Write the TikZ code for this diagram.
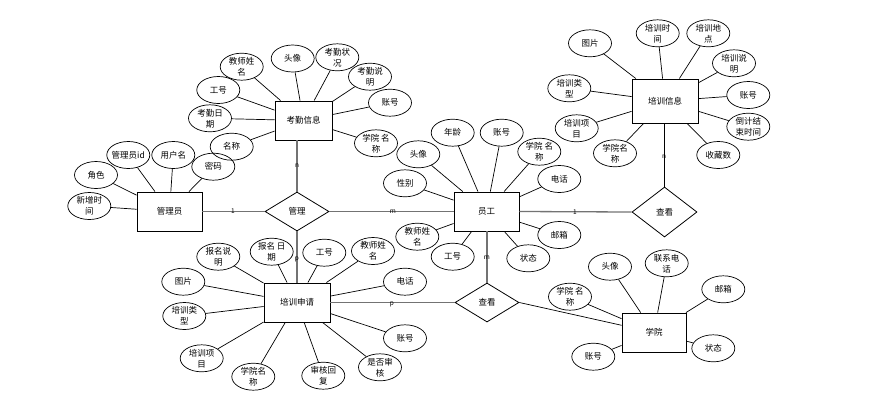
\documentclass[tikz,border=0pt]{standalone}
\usepackage{fontspec}
\setmainfont{Noto Sans CJK SC}
\usetikzlibrary{shapes.geometric}
\begin{document}
\begin{tikzpicture}[x=1pt,y=-1pt,
  ent/.style={draw, line width=0.9pt, minimum height=39pt, inner sep=0pt, font=\fontsize{8.5}{11}\selectfont},
  rel/.style={diamond, draw, line width=0.8pt, minimum width=64pt, minimum height=39pt, inner sep=0pt, font=\fontsize{8.5}{11}\selectfont},
  attr/.style={ellipse, draw, line width=0.7pt, minimum width=43pt, minimum height=27pt, inner sep=0pt, label={[atxt]center:#1}},
  atxt/.style={align=center, inner sep=0pt, font=\fontsize{8.5}{11}\selectfont},
  ln/.style={line width=0.7pt},
  rl/.style={line width=1.3pt, draw=black!55},
  rk/.style={line width=0.9pt, draw=black},
  card/.style={font=\fontsize{6.5}{7}\selectfont, inner sep=0pt}]
\useasboundingbox (0,0) rectangle (878,400);

% entities
\node[ent, minimum width=57pt] (kq) at (303.5,120.5) {考勤信息};
\node[ent, minimum width=65pt] (gly) at (169.5,211.5) {管理员};
\node[ent, minimum width=65pt] (yg) at (486.5,211.5) {员工};
\node[ent, minimum width=66pt, minimum height=44pt] (pxxx) at (665,101) {培训信息};
\node[ent, minimum width=66pt] (pxsq) at (297,302.5) {培训申请};
\node[ent, minimum width=64pt] (xy) at (654,332.5) {学院};

% relationships
\node[rel] (gl) at (297,211.5) {管理};
\node[rel, minimum width=65pt, minimum height=50pt] (ck1) at (664.5,212) {查看};
\node[rel] (ck2) at (487,302.5) {查看};

% 考勤信息 attributes
\node[attr={教师姓\\名}] (k1) at (241.7,66.7) {};
\node[attr={头像}] (k2) at (292.7,58.5) {};
\node[attr={考勤状\\况}] (k3) at (337.3,57.3) {};
\node[attr={考勤说\\明}] (k4) at (370,76.7) {};
\node[attr={账号}] (k5) at (390,102.7) {};
\node[attr={学院 名\\称}] (k6) at (376,143.3) {};
\node[attr={工号}] (k7) at (218.3,90) {};
\node[attr={考勤日\\期}] (k8) at (210,118.3) {};
\node[attr={名称}] (k9) at (231.7,146.7) {};
\foreach \a in {k1,k2,k3,k4,k5,k6,k7,k8,k9} \draw[ln] (\a) -- (kq);

% 管理员 attributes
\node[attr={角色}] (g1) at (96,175) {};
\node[attr={新增时\\间}] (g2) at (89.3,206) {};
\node[attr={管理员id}] (g3) at (128.3,155) {};
\node[attr={用户名}] (g4) at (173.3,155) {};
\node[attr={密码}] (g5) at (213.3,166.7) {};
\foreach \a in {g1,g2,g3,g4,g5} \draw[ln] (\a) -- (gly);

% 员工 attributes
\node[attr={年龄}] (y1) at (452.7,132.7) {};
\node[attr={账号}] (y2) at (501.7,132.7) {};
\node[attr={学院 名\\称}] (y3) at (539.3,151.7) {};
\node[attr={电话}] (y4) at (559.3,179) {};
\node[attr={头像}] (y5) at (418.3,154.3) {};
\node[attr={性别}] (y6) at (405,183.3) {};
\node[attr={教师姓\\名}] (y7) at (417.3,236.7) {};
\node[attr={工号}] (y8) at (452.7,256.7) {};
\node[attr={状态}] (y9) at (528.3,258.3) {};
\node[attr={邮箱}] (y10) at (559.3,235) {};
\foreach \a in {y1,y2,y3,y4,y5,y6,y7,y8,y9,y10} \draw[ln] (\a) -- (yg);

% 培训信息 attributes
\node[attr={图片}] (p1) at (590,43.3) {};
\node[attr={培训时\\间}] (p2) at (657.7,33.3) {};
\node[attr={培训地\\点}] (p3) at (708.3,33.3) {};
\node[attr={培训说\\明}] (p4) at (734,63.3) {};
\node[attr={账号}] (p5) at (748.3,95) {};
\node[attr={倒计结\\束时间}] (p6) at (748.3,126.7) {};
\node[attr={收藏数}] (p7) at (718.3,155) {};
\node[attr={学院名\\称}] (p8) at (615,153.3) {};
\node[attr={培训项\\目}] (p9) at (576.7,128.3) {};
\node[attr={培训类\\型}] (p10) at (569.3,88.3) {};
\foreach \a in {p1,p2,p3,p4,p5,p6,p7,p8,p9,p10} \draw[ln] (\a) -- (pxxx);

% 培训申请 attributes
\node[attr={报名说\\明}] (s1) at (218.3,256.7) {};
\node[attr={报名 日\\期}] (s2) at (271.7,251.7) {};
\node[attr={工号}] (s3) at (324.3,252.7) {};
\node[attr={教师姓\\名}] (s4) at (373,251) {};
\node[attr={电话}] (s5) at (405,281.7) {};
\node[attr={账号}] (s6) at (405,338.3) {};
\node[attr={是否审\\核}] (s7) at (380,367.3) {};
\node[attr={审核回\\复}] (s8) at (323.3,375.7) {};
\node[attr={学院名\\称}] (s9) at (253.3,376.7) {};
\node[attr={培训项\\目}] (s10) at (201.7,358.3) {};
\node[attr={培训类\\型}] (s11) at (184.3,316) {};
\node[attr={图片}] (s12) at (183.3,281.7) {};
\foreach \a in {s1,s2,s3,s4,s5,s6,s7,s8,s9,s10,s11,s12} \draw[ln] (\a) -- (pxsq);

% 学院 attributes
\node[attr={头像}] (x1) at (610,266.7) {};
\node[attr={联系电\\话}] (x2) at (666.7,263.3) {};
\node[attr={邮箱}] (x3) at (723.3,289.3) {};
\node[attr={状态}] (x4) at (713.3,348.3) {};
\node[attr={账号}] (x5) at (593.3,356.7) {};
\node[attr={学院 名\\称}] (x6) at (570,296.7) {};
\foreach \a in {x1,x2,x3,x4,x5,x6} \draw[ln] (\a) -- (xy);

% relationship lines
\draw[rl] (gly.east) -- (gl.west);
\draw[rl] (gl.east) -- (yg.west);
\draw[rl] (gl.north) -- (gl.north |- kq.south);
\draw[rl] (gl.south) -- (gl.south |- pxsq.north);
\draw[rl] (yg.east) -- (ck1.west);
\draw[rk] (ck1.north) -- (ck1.north |- pxxx.south);
\draw[rl] (ck2.north) -- (ck2.north |- yg.south);
\draw[rl] (pxsq.east) -- (ck2.west);
\draw[ln] (ck2.east) -- (xy);

% cardinalities
\node[card] (c1) at (233,211) {1};
\node[card] (c2) at (393,212) {m};
\node[card] (c3) at (297,166) {n};
\node[card] (c4) at (297,259) {p};
\node[card] (c5) at (575,212) {1};
\node[card] (c6) at (664,157) {n};
\node[card] (c7) at (487,258) {m};
\node[card] (c8) at (392,304) {p};
\end{tikzpicture}
\end{document}
